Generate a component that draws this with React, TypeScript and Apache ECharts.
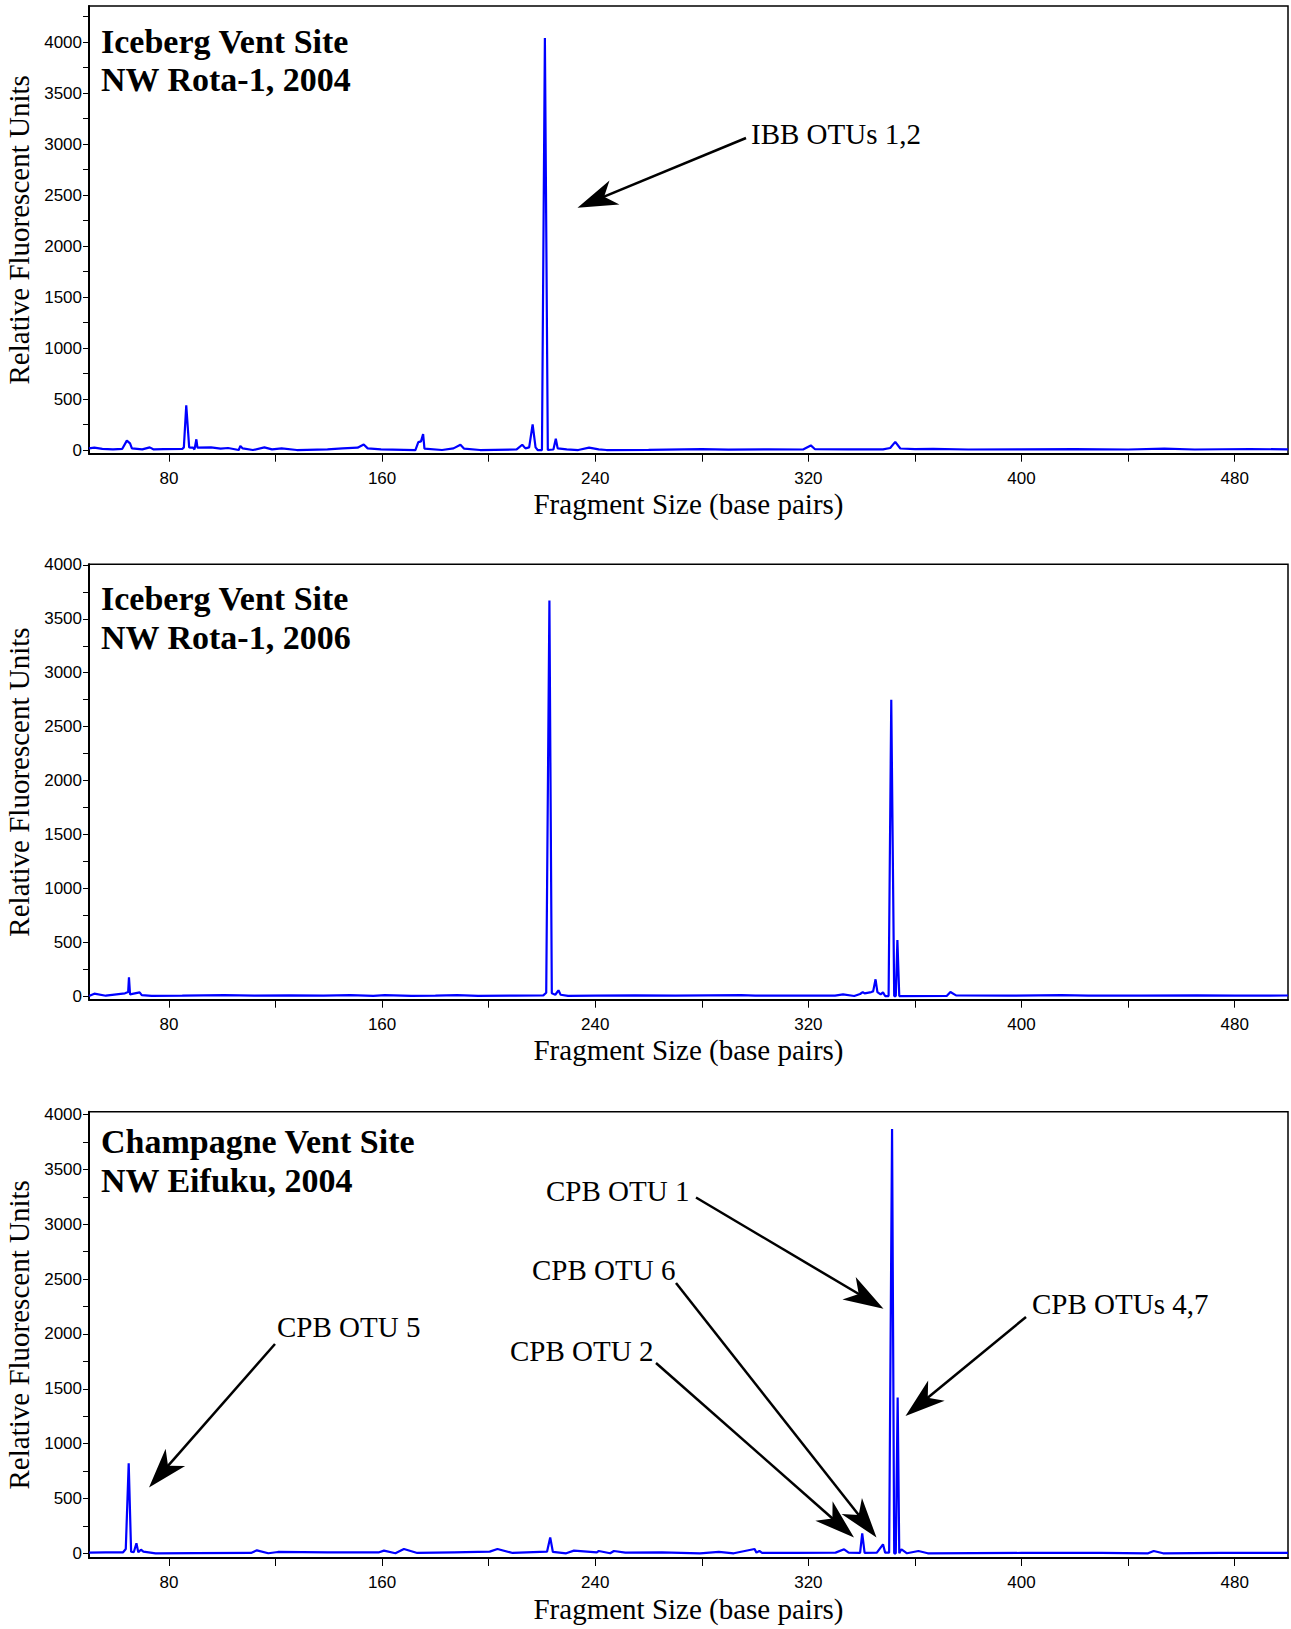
import React, { useEffect, useRef } from "react";
import * as echarts from "echarts";

// ---------- DATA ----------
const rota2004: [number, number][] = [
  [50, 16], [52, 24], [55, 12], [59, 6], [62.5, 12], [64.2, 92], [65.4, 65], [66.1, 16], [70, 6],
  [72.8, 26], [74.3, 6], [78, 9], [85, 10], [85.6, 26], [86.5, 438], [87.6, 26], [88.3, 23], [89.0, 24],
  [89.6, 6], [90.3, 105], [90.7, 24], [95.8, 26], [99.4, 13], [102.2, 20], [106.2, 0], [106.8, 40],
  [107.7, 16], [111.5, 0], [115.8, 26], [118.7, 6], [122.3, 16], [128, 0], [139.5, 6], [145.2, 16],
  [150.8, 23], [153.1, 55], [154.6, 16], [159.6, 6], [172.5, 0], [173.6, 78], [174.6, 85], [175.4, 157],
  [175.9, 13], [182.5, 0], [186.8, 16], [189.4, 52], [190.8, 13], [196.8, 0], [210.5, 6], [212.6, 52],
  [213.8, 16], [215.2, 26], [216.5, 252], [217.6, 26], [218.4, 0], [220.0, 0], [221.1, 4040], [222.2, 0],
  [224.3, 5], [225.2, 111], [225.9, 16], [229.3, 6], [233.6, 0], [237.7, 23], [241.3, 6], [244.2, 0],
  [260, 2], [280, 8], [290, 4], [305, 6], [318, 5], [320.9, 45], [322.5, 8], [335, 6], [348, 6],
  [350.7, 20], [352.6, 80], [354.5, 15], [360, 8], [366.8, 12], [380, 5], [400, 6], [420, 8], [440, 5],
  [453.6, 14], [465, 5], [485.7, 10], [500, 6],
];

const rota2006: [number, number][] = [
  [50, 0], [52, 22], [56.3, 3], [63.5, 25], [64.7, 37], [65.0, 174], [65.4, 16], [69.0, 34], [69.8, 9],
  [73.5, 2], [85, 3], [100.8, 9], [112, 3], [125.2, 6], [138, 3], [148.1, 9], [156.7, 1], [161, 9],
  [171, 1], [180, 3], [188.2, 9], [196, 2], [210, 4], [220.5, 6], [221.6, 31], [222.8, 3670], [223.7, 25],
  [225, 12], [226.2, 53], [227, 12], [229.8, 1], [240, 3], [255, 6], [270, 3], [294.8, 9], [300, 3],
  [315, 4], [330, 4], [333, 15], [337.2, 0], [339.4, 19], [340.4, 37], [341.1, 25], [343.6, 37],
  [344.3, 43], [345.2, 155], [345.9, 37], [347.1, 15], [348.0, 34], [348.8, 0], [350.1, 0], [351.1, 2750],
  [352.2, 0], [352.8, 0], [353.4, 520], [354.1, 0], [371.9, 1], [373.3, 37], [375.4, 6], [395, 3],
  [415, 9], [425, 3], [445, 3], [465.9, 6], [480, 3], [500, 5],
];

const eifuku2004: [number, number][] = [
  [50, 6], [56.3, 9], [62.8, 9], [63.8, 39], [64.9, 820], [65.8, 15], [66.8, 9], [67.8, 91], [68.5, 9],
  [69.5, 33], [70.4, 15], [75, 0], [90, 2], [110.8, 3], [113, 27], [117.3, 0], [120.9, 12], [139.5, 9],
  [158.9, 9], [160.7, 24], [165, 0], [168.2, 39], [173.2, 3], [187, 9], [200.4, 15], [203.3, 39],
  [209, 3], [221.9, 15], [223.1, 145], [224.1, 12], [229.1, 0], [232, 24], [240.6, 9], [241.3, 21],
  [245.6, 0], [247, 21], [251.3, 6], [265, 9], [279.3, 0], [286.4, 12], [292, 0], [299.8, 39],
  [300.5, 6], [301.6, 21], [302.6, 3], [314.6, 3], [330.2, 6], [333.4, 36], [335.1, 6], [339.4, 3],
  [340.2, 182], [341.1, 3], [345.7, 6], [348, 82], [348.8, 6], [350.3, 6], [350.6, 1070], [351.4, 3870],
  [352.2, 0], [352.8, 0], [353.5, 1420], [354.1, 0], [354.9, 36], [355.6, 24], [357, 0], [361.3, 21],
  [364.8, 0], [400, 3], [430, 3], [447.5, 0], [449.6, 21], [453.1, 0], [475, 3], [500, 3],
];

const xLabelValues = [80, 160, 240, 320, 400, 480];
const xTickValues = [80, 120, 160, 200, 240, 280, 320, 360, 400, 440, 480];
const yLabelValues = [0, 500, 1000, 1500, 2000, 2500, 3000, 3500, 4000];
const yTickValuesTop = [0, 250, 500, 750, 1000, 1250, 1500, 1750, 2000, 2250, 2500, 2750, 3000, 3250, 3500, 3750, 4000, 4250];
const yTickValues = [0, 250, 500, 750, 1000, 1250, 1500, 1750, 2000, 2250, 2500, 2750, 3000, 3250, 3500, 3750, 4000];

const panelTitles = [
  ["Iceberg Vent Site", "NW Rota-1, 2004"],
  ["Iceberg Vent Site", "NW Rota-1, 2006"],
  ["Champagne Vent Site", "NW Eifuku, 2004"],
];
const xName = "Fragment Size (base pairs)";
const yName = "Relative Fluorescent Units";

// ---------- LAYOUT ----------
const panels = [
  { data: rota2004, top: 6, height: 447.7, min: -36, max: 4353, ticks: yTickValuesTop, titleY: [41, 79] },
  { data: rota2006, top: 564.3, height: 435.4, min: -34, max: 4006, ticks: yTickValues, titleY: [598.5, 637] },
  { data: eifuku2004, top: 1111.7, height: 446.3, min: -43, max: 4027, ticks: yTickValues, titleY: [1141.7, 1180] },
];

const annotations = [
  { text: "IBB OTUs 1,2", tx: 751, ty: 134, from: [746, 138], to: [577.5, 207.7] },
  { text: "CPB OTU 5", tx: 277, ty: 1327, from: [275, 1344], to: [149, 1487.5] },
  { text: "CPB OTU 1", tx: 546, ty: 1191, from: [696, 1197.5], to: [883.5, 1308.7] },
  { text: "CPB OTU 6", tx: 532, ty: 1270, from: [676, 1283], to: [876.5, 1537.5] },
  { text: "CPB OTU 2", tx: 510, ty: 1351, from: [656, 1363], to: [854, 1537.5] },
  { text: "CPB OTUs 4,7", tx: 1032, ty: 1304, from: [1026, 1317], to: [905.5, 1416] },
];

const SERIF = '"Liberation Serif", "Times New Roman", serif';
const SANS = '"Liberation Sans", Arial, sans-serif';

function arrow(x1: number, y1: number, x2: number, y2: number) {
  const dx = x2 - x1, dy = y2 - y1;
  const len = Math.hypot(dx, dy);
  const ux = dx / len, uy = dy / len;
  const px = -uy, py = ux;
  const L = 40, W = 13, N = 0.72 * L;
  const notch = [x2 - ux * N, y2 - uy * N];
  return [
    { type: "line", z: 100, shape: { x1, y1, x2: notch[0] + ux * 2, y2: notch[1] + uy * 2 }, style: { stroke: "#000", lineWidth: 2.5 } },
    {
      type: "polygon", z: 100,
      shape: { points: [[x2, y2], [x2 - ux * L + px * W, y2 - uy * L + py * W], notch, [x2 - ux * L - px * W, y2 - uy * L - py * W]] },
      style: { fill: "#000" },
    },
  ];
}

export default function App() {
  const ref = useRef<HTMLDivElement>(null);
  useEffect(() => {
    if (!ref.current) return;
    const chart = echarts.init(ref.current, undefined, { renderer: "svg" });
    const graphic: any[] = [];
    panels.forEach((p, i) => {
      panelTitles[i].forEach((t, j) => {
        graphic.push({
          type: "text", z: 100, x: 101, y: p.titleY[j],
          style: { text: t, fill: "#000", fontFamily: SERIF, fontWeight: "bold", fontSize: 34, align: "left", verticalAlign: "middle" },
        });
      });
    });
    annotations.forEach((a) => {
      graphic.push({
        type: "text", z: 100, x: a.tx, y: a.ty,
        style: { text: a.text, fill: "#000", fontFamily: SERIF, fontSize: 29, align: "left", verticalAlign: "middle" },
      });
      graphic.push(...arrow(a.from[0], a.from[1], a.to[0], a.to[1]));
    });

    chart.setOption({
      animation: false,
      backgroundColor: "#fff",
      textStyle: { fontFamily: SANS },
      grid: panels.map((p) => ({
        left: 89, top: p.top, width: 1199, height: p.height,
        containLabel: false, outerBoundsMode: "none",
        show: true, borderColor: "#000", borderWidth: 1.5, backgroundColor: "transparent",
      })),
      xAxis: panels.map((p, i) => ({
        type: "value", gridIndex: i, min: 50, max: 500,
        name: xName, nameLocation: "middle", nameGap: 36,
        nameTextStyle: { fontFamily: SERIF, fontSize: 29, color: "#000" },
        axisLine: { show: true, onZero: false, lineStyle: { color: "#000", width: 2 } },
        axisTick: { show: true, inside: false, length: 8, customValues: xTickValues, lineStyle: { color: "#000", width: 1 } },
        axisLabel: { show: true, margin: 16, customValues: xLabelValues, fontFamily: SANS, fontSize: 17, color: "#000", formatter: (v: number) => String(v) },
        splitLine: { show: false },
      })),
      yAxis: panels.map((p, i) => ({
        type: "value", gridIndex: i, min: p.min, max: p.max,
        name: yName, nameLocation: "middle", nameGap: 48,
        nameTextStyle: { fontFamily: SERIF, fontSize: 29, color: "#000" },
        axisLine: { show: true, onZero: false, lineStyle: { color: "#000", width: 2 } },
        axisTick: { show: true, inside: false, length: 6, customValues: p.ticks, lineStyle: { color: "#000", width: 1 } },
        axisLabel: { show: true, margin: 7, customValues: yLabelValues, fontFamily: SANS, fontSize: 17, color: "#000", formatter: (v: number) => String(v) },
        splitLine: { show: false },
      })),
      series: panels.map((p, i) => ({
        type: "line", xAxisIndex: i, yAxisIndex: i, data: p.data,
        showSymbol: false, symbol: "none", silent: true,
        lineStyle: { color: "#0000ff", width: 2.2 },
      })),
      graphic,
    });
    return () => chart.dispose();
  }, []);
  return <div ref={ref} style={{ position: "absolute", left: 0, top: 0, width: 1291, height: 1629 }} />;
}
